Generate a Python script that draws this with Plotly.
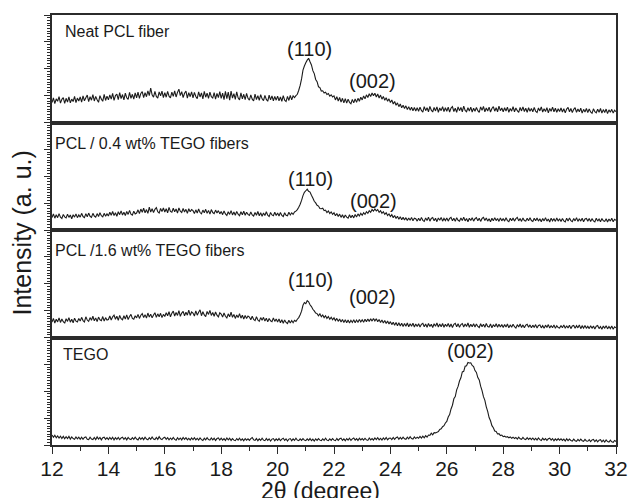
import plotly.graph_objects as go
from plotly.subplots import make_subplots

# 2-theta grid (degrees), 0.05 degree steps from 12 to 32
two_theta = [round(12 + 0.05 * i, 2) for i in range(401)]
x_ticks = [12, 14, 16, 18, 20, 22, 24, 26, 28, 30, 32]

# Diffraction intensities (a.u.), one row of 20 readings per degree
neat_pcl = [
    0.74, 0.92, 0.70, 0.88, 0.79, 0.96, 0.72, 0.86, 0.93, 0.71, 0.90, 0.76, 0.95, 0.73, 0.87, 0.78, 0.97, 0.74, 0.91, 0.80,
    0.95, 0.76, 0.99, 0.81, 0.92, 1.02, 0.78, 0.96, 0.83, 1.04, 0.80, 0.97, 0.85, 0.75, 1.00, 0.87, 0.79, 1.05, 0.82, 0.98,
    0.84, 1.03, 0.87, 1.08, 0.82, 1.00, 1.06, 0.85, 1.11, 0.89, 1.04, 0.84, 1.09, 0.92, 0.86, 1.12, 0.90, 1.05, 0.87, 1.10,
    0.92, 1.13, 0.90, 1.08, 1.15, 0.93, 1.11, 0.96, 1.18, 1.00, 1.28, 1.03, 0.94, 1.16, 0.97, 0.91, 1.14, 0.99, 1.17, 0.93,
    1.11, 0.94, 1.16, 0.98, 0.92, 1.13, 0.97, 1.18, 0.95, 1.12, 1.24, 1.00, 1.15, 0.93, 1.09, 1.17, 0.91, 1.11, 0.96, 1.14,
    0.92, 1.12, 0.97, 0.89, 1.14, 0.95, 1.10, 0.88, 1.16, 0.94, 1.09, 0.90, 1.13, 0.96, 0.91, 1.11, 0.87, 1.08, 0.93, 1.15,
    0.90, 1.09, 0.85, 1.16, 0.89, 1.13, 0.83, 1.17, 0.91, 1.07, 0.86, 1.14, 0.92, 0.84, 1.10, 0.88, 1.05, 0.85, 1.08, 0.90,
    0.83, 1.03, 0.87, 0.80, 1.06, 0.85, 1.00, 0.82, 1.04, 0.88, 0.81, 1.01, 0.86, 0.79, 1.02, 0.84, 0.99, 0.81, 0.97, 0.83,
    0.98, 0.81, 0.95, 0.79, 1.00, 0.83, 0.78, 0.97, 0.82, 1.01, 0.84, 0.99, 0.93, 1.00, 1.05, 1.20, 1.38, 1.62, 1.95, 2.10,
    2.22, 2.32, 2.39, 2.26, 2.14, 1.93, 1.82, 1.60, 1.52, 1.33, 1.30, 1.17, 1.18, 1.10, 1.13, 1.04, 1.08, 0.98, 1.03, 0.95,
    0.99, 0.84, 0.96, 0.80, 0.93, 0.76, 0.90, 0.73, 0.89, 0.72, 0.87, 0.75, 0.70, 0.86, 0.73, 0.88, 0.75, 0.90, 0.79, 0.94,
    0.84, 0.99, 0.88, 1.03, 0.93, 1.07, 0.97, 1.10, 1.00, 1.09, 0.95, 1.06, 0.91, 1.02, 0.87, 0.97, 0.83, 0.92, 0.79, 0.88,
    0.74, 0.84, 0.69, 0.78, 0.64, 0.73, 0.59, 0.69, 0.55, 0.64, 0.52, 0.62, 0.48, 0.59, 0.46, 0.57, 0.44, 0.56, 0.43, 0.55,
    0.42, 0.57, 0.45, 0.39, 0.59, 0.44, 0.55, 0.40, 0.60, 0.46, 0.39, 0.56, 0.43, 0.58, 0.38, 0.54, 0.44, 0.59, 0.41, 0.55,
    0.42, 0.57, 0.39, 0.54, 0.59, 0.41, 0.53, 0.38, 0.58, 0.44, 0.56, 0.40, 0.61, 0.45, 0.40, 0.55, 0.43, 0.57, 0.39, 0.53,
    0.42, 0.56, 0.44, 0.38, 0.58, 0.45, 0.60, 0.40, 0.54, 0.43, 0.57, 0.39, 0.52, 0.59, 0.42, 0.55, 0.40, 0.61, 0.44, 0.54,
    0.40, 0.55, 0.43, 0.57, 0.38, 0.52, 0.42, 0.59, 0.40, 0.54, 0.44, 0.38, 0.56, 0.43, 0.58, 0.41, 0.53, 0.38, 0.55, 0.42,
    0.52, 0.40, 0.56, 0.42, 0.37, 0.54, 0.43, 0.58, 0.39, 0.51, 0.41, 0.55, 0.36, 0.52, 0.42, 0.57, 0.40, 0.53, 0.38, 0.51,
    0.41, 0.54, 0.39, 0.51, 0.36, 0.50, 0.56, 0.40, 0.52, 0.37, 0.49, 0.55, 0.38, 0.50, 0.40, 0.53, 0.35, 0.49, 0.39, 0.52,
    0.37, 0.50, 0.39, 0.34, 0.51, 0.40, 0.36, 0.49, 0.38, 0.52, 0.35, 0.48, 0.37, 0.50, 0.33, 0.47, 0.38, 0.49, 0.35, 0.46,
    0.40,
]

pcl_tego_04 = [
    0.46, 0.60, 0.44, 0.57, 0.46, 0.61, 0.48, 0.43, 0.58, 0.49, 0.45, 0.59, 0.47, 0.56, 0.42, 0.57, 0.48, 0.60, 0.46, 0.56,
    0.48, 0.62, 0.50, 0.46, 0.61, 0.49, 0.63, 0.51, 0.47, 0.62, 0.52, 0.48, 0.61, 0.50, 0.64, 0.53, 0.49, 0.62, 0.51, 0.60,
    0.52, 0.66, 0.55, 0.69, 0.54, 0.64, 0.51, 0.68, 0.57, 0.71, 0.56, 0.66, 0.54, 0.69, 0.58, 0.73, 0.59, 0.55, 0.70, 0.60,
    0.63, 0.75, 0.61, 0.78, 0.66, 0.81, 0.64, 0.76, 0.62, 0.85, 0.67, 0.79, 0.65, 0.77, 0.83, 0.68, 0.63, 0.80, 0.69, 0.82,
    0.67, 0.79, 0.64, 0.84, 0.69, 0.66, 0.81, 0.68, 0.78, 0.63, 0.82, 0.70, 0.65, 0.80, 0.67, 0.77, 0.62, 0.79, 0.68, 0.76,
    0.72, 0.61, 0.75, 0.63, 0.78, 0.65, 0.60, 0.74, 0.64, 0.77, 0.62, 0.73, 0.59, 0.76, 0.65, 0.61, 0.74, 0.63, 0.72, 0.60,
    0.69, 0.57, 0.71, 0.60, 0.54, 0.68, 0.58, 0.72, 0.56, 0.67, 0.55, 0.69, 0.59, 0.53, 0.68, 0.57, 0.70, 0.55, 0.66, 0.58,
    0.54, 0.67, 0.56, 0.52, 0.65, 0.55, 0.69, 0.53, 0.64, 0.51, 0.63, 0.54, 0.68, 0.55, 0.50, 0.65, 0.56, 0.53, 0.66, 0.54,
    0.63, 0.52, 0.65, 0.54, 0.50, 0.64, 0.55, 0.53, 0.66, 0.56, 0.64, 0.58, 0.67, 0.70, 0.76, 0.85, 0.96, 1.10, 1.28, 1.40,
    1.46, 1.52, 1.44, 1.41, 1.29, 1.19, 1.07, 1.01, 0.92, 0.89, 0.80, 0.79, 0.81, 0.72, 0.74, 0.65, 0.71, 0.61, 0.67, 0.58,
    0.64, 0.53, 0.61, 0.50, 0.59, 0.47, 0.57, 0.45, 0.56, 0.48, 0.44, 0.57, 0.46, 0.55, 0.45, 0.58, 0.48, 0.60, 0.52, 0.62,
    0.55, 0.64, 0.58, 0.68, 0.62, 0.72, 0.66, 0.76, 0.70, 0.78, 0.71, 0.76, 0.66, 0.72, 0.62, 0.68, 0.58, 0.64, 0.54, 0.60,
    0.50, 0.57, 0.46, 0.54, 0.43, 0.51, 0.40, 0.49, 0.38, 0.47, 0.37, 0.46, 0.35, 0.45, 0.36, 0.47, 0.34, 0.44, 0.42, 0.33,
    0.44, 0.34, 0.47, 0.36, 0.32, 0.45, 0.35, 0.48, 0.33, 0.43, 0.46, 0.34, 0.44, 0.31, 0.45, 0.36, 0.47, 0.33, 0.43, 0.35,
    0.45, 0.33, 0.43, 0.47, 0.34, 0.44, 0.32, 0.46, 0.36, 0.33, 0.45, 0.35, 0.48, 0.34, 0.43, 0.31, 0.44, 0.35, 0.46, 0.33,
    0.42, 0.46, 0.34, 0.44, 0.32, 0.43, 0.47, 0.35, 0.45, 0.33, 0.42, 0.31, 0.44, 0.34, 0.46, 0.35, 0.43, 0.32, 0.45, 0.34,
    0.43, 0.33, 0.46, 0.35, 0.31, 0.44, 0.34, 0.45, 0.33, 0.42, 0.47, 0.34, 0.43, 0.32, 0.45, 0.35, 0.33, 0.44, 0.34, 0.46,
    0.35, 0.32, 0.44, 0.34, 0.45, 0.33, 0.42, 0.31, 0.43, 0.34, 0.46, 0.33, 0.41, 0.30, 0.44, 0.34, 0.42, 0.32, 0.45, 0.33,
    0.42, 0.32, 0.43, 0.34, 0.30, 0.44, 0.33, 0.45, 0.35, 0.31, 0.43, 0.34, 0.46, 0.32, 0.42, 0.33, 0.44, 0.31, 0.41, 0.43,
    0.33, 0.43, 0.32, 0.42, 0.34, 0.30, 0.44, 0.33, 0.41, 0.31, 0.43, 0.34, 0.32, 0.42, 0.30, 0.41, 0.33, 0.44, 0.31, 0.40,
    0.36,
]

pcl_tego_16 = [
    0.57, 0.71, 0.54, 0.68, 0.58, 0.73, 0.56, 0.69, 0.59, 0.53, 0.70, 0.60, 0.74, 0.57, 0.68, 0.55, 0.72, 0.61, 0.58, 0.71,
    0.61, 0.75, 0.63, 0.58, 0.77, 0.65, 0.60, 0.74, 0.64, 0.79, 0.62, 0.73, 0.59, 0.76, 0.66, 0.63, 0.78, 0.61, 0.74, 0.65,
    0.67, 0.80, 0.65, 0.77, 0.83, 0.68, 0.79, 0.64, 0.82, 0.70, 0.66, 0.81, 0.69, 0.84, 0.67, 0.78, 0.86, 0.71, 0.68, 0.81,
    0.73, 0.86, 0.71, 0.83, 0.89, 0.74, 0.85, 0.72, 0.91, 0.76, 0.87, 0.73, 0.84, 0.92, 0.75, 0.88, 0.77, 0.90, 0.74, 0.86,
    0.78, 0.92, 0.81, 0.96, 0.77, 0.90, 0.98, 0.80, 0.93, 0.82, 1.00, 0.79, 0.91, 0.97, 0.81, 0.94, 0.83, 1.02, 0.82, 0.95,
    0.91, 0.80, 0.99, 0.83, 0.94, 1.03, 0.81, 0.96, 0.84, 0.78, 0.97, 0.86, 1.01, 0.82, 0.93, 0.79, 0.95, 0.83, 0.77, 0.92,
    0.87, 0.76, 0.91, 0.79, 0.73, 0.88, 0.77, 0.94, 0.75, 0.86, 0.71, 0.84, 0.74, 0.89, 0.72, 0.83, 0.69, 0.82, 0.71, 0.80,
    0.76, 0.66, 0.79, 0.67, 0.63, 0.77, 0.65, 0.60, 0.74, 0.64, 0.75, 0.61, 0.72, 0.58, 0.71, 0.62, 0.59, 0.73, 0.60, 0.69,
    0.58, 0.69, 0.55, 0.66, 0.53, 0.65, 0.56, 0.52, 0.64, 0.54, 0.63, 0.55, 0.64, 0.60, 0.68, 0.74, 0.85, 0.98, 1.20, 1.30,
    1.26, 1.37, 1.33, 1.22, 1.15, 1.05, 0.99, 0.91, 0.89, 0.81, 0.88, 0.77, 0.84, 0.74, 0.81, 0.71, 0.78, 0.68, 0.75, 0.66,
    0.73, 0.63, 0.71, 0.60, 0.69, 0.58, 0.67, 0.56, 0.66, 0.55, 0.65, 0.54, 0.64, 0.56, 0.66, 0.55, 0.65, 0.57, 0.67, 0.58,
    0.66, 0.57, 0.68, 0.59, 0.69, 0.60, 0.70, 0.61, 0.71, 0.62, 0.70, 0.59, 0.67, 0.56, 0.65, 0.54, 0.63, 0.52, 0.61, 0.50,
    0.59, 0.48, 0.57, 0.46, 0.56, 0.44, 0.55, 0.43, 0.53, 0.41, 0.52, 0.42, 0.54, 0.40, 0.51, 0.42, 0.53, 0.39, 0.50, 0.41,
    0.51, 0.39, 0.49, 0.53, 0.40, 0.50, 0.38, 0.52, 0.41, 0.49, 0.37, 0.51, 0.42, 0.54, 0.39, 0.50, 0.40, 0.52, 0.38, 0.49,
    0.41, 0.52, 0.39, 0.50, 0.37, 0.49, 0.53, 0.40, 0.51, 0.38, 0.48, 0.52, 0.39, 0.50, 0.41, 0.54, 0.38, 0.49, 0.40, 0.51,
    0.39, 0.50, 0.41, 0.37, 0.51, 0.40, 0.49, 0.38, 0.52, 0.41, 0.39, 0.50, 0.36, 0.48, 0.40, 0.51, 0.38, 0.49, 0.39, 0.48,
    0.37, 0.48, 0.39, 0.50, 0.36, 0.47, 0.38, 0.49, 0.40, 0.35, 0.48, 0.39, 0.50, 0.37, 0.47, 0.36, 0.46, 0.49, 0.38, 0.47,
    0.36, 0.46, 0.37, 0.48, 0.35, 0.45, 0.47, 0.36, 0.44, 0.34, 0.46, 0.37, 0.48, 0.35, 0.45, 0.36, 0.47, 0.34, 0.44, 0.37,
    0.35, 0.45, 0.36, 0.47, 0.34, 0.44, 0.35, 0.46, 0.33, 0.43, 0.45, 0.34, 0.44, 0.36, 0.47, 0.33, 0.43, 0.35, 0.45, 0.34,
    0.42, 0.33, 0.44, 0.34, 0.43, 0.32, 0.42, 0.45, 0.33, 0.41, 0.31, 0.43, 0.34, 0.44, 0.32, 0.41, 0.33, 0.43, 0.31, 0.40,
    0.36,
]

tego = [
    0.37, 0.29, 0.36, 0.27, 0.34, 0.26, 0.33, 0.24, 0.32, 0.23, 0.31, 0.24, 0.32, 0.22, 0.30, 0.24, 0.21, 0.30, 0.23, 0.29,
    0.21, 0.29, 0.21, 0.28, 0.30, 0.21, 0.20, 0.29, 0.22, 0.20, 0.28, 0.20, 0.30, 0.22, 0.28, 0.19, 0.27, 0.29, 0.21, 0.27,
    0.20, 0.28, 0.21, 0.29, 0.19, 0.27, 0.21, 0.28, 0.20, 0.26, 0.29, 0.21, 0.27, 0.19, 0.28, 0.22, 0.20, 0.27, 0.21, 0.29,
    0.22, 0.19, 0.28, 0.21, 0.27, 0.20, 0.29, 0.22, 0.19, 0.27, 0.21, 0.30, 0.22, 0.20, 0.28, 0.21, 0.31, 0.23, 0.20, 0.26,
    0.29, 0.21, 0.27, 0.19, 0.26, 0.20, 0.28, 0.21, 0.18, 0.27, 0.20, 0.26, 0.19, 0.28, 0.21, 0.27, 0.19, 0.25, 0.18, 0.26,
    0.20, 0.27, 0.19, 0.25, 0.18, 0.26, 0.20, 0.17, 0.25, 0.19, 0.27, 0.20, 0.18, 0.26, 0.19, 0.25, 0.17, 0.24, 0.26, 0.18,
    0.25, 0.18, 0.24, 0.17, 0.26, 0.19, 0.25, 0.17, 0.24, 0.18, 0.16, 0.24, 0.18, 0.25, 0.17, 0.23, 0.16, 0.24, 0.18, 0.23,
    0.17, 0.24, 0.28, 0.19, 0.17, 0.24, 0.16, 0.23, 0.17, 0.25, 0.18, 0.16, 0.24, 0.17, 0.23, 0.15, 0.22, 0.24, 0.16, 0.23,
    0.17, 0.24, 0.16, 0.22, 0.25, 0.17, 0.23, 0.15, 0.22, 0.24, 0.16, 0.23, 0.17, 0.25, 0.18, 0.16, 0.23, 0.17, 0.24, 0.18,
    0.16, 0.23, 0.17, 0.24, 0.16, 0.22, 0.15, 0.23, 0.17, 0.24, 0.18, 0.16, 0.23, 0.17, 0.25, 0.18, 0.16, 0.23, 0.17, 0.24,
    0.18, 0.16, 0.24, 0.17, 0.23, 0.25, 0.17, 0.23, 0.16, 0.24, 0.18, 0.25, 0.17, 0.23, 0.26, 0.18, 0.24, 0.17, 0.25, 0.19,
    0.24, 0.18, 0.25, 0.19, 0.17, 0.26, 0.19, 0.24, 0.18, 0.26, 0.20, 0.27, 0.19, 0.25, 0.18, 0.26, 0.20, 0.28, 0.19, 0.25,
    0.26, 0.20, 0.28, 0.21, 0.27, 0.30, 0.21, 0.28, 0.22, 0.29, 0.23, 0.21, 0.29, 0.23, 0.31, 0.24, 0.22, 0.30, 0.24, 0.29,
    0.25, 0.32, 0.26, 0.33, 0.27, 0.35, 0.29, 0.37, 0.36, 0.44, 0.38, 0.46, 0.45, 0.47, 0.50, 0.58, 0.60, 0.68, 0.72, 0.82,
    0.88, 1.04, 1.13, 1.34, 1.48, 1.72, 1.80, 2.05, 2.18, 2.38, 2.50, 2.72, 2.74, 2.93, 2.95, 3.07, 3.05, 3.06, 2.96, 2.92,
    2.77, 2.70, 2.51, 2.42, 2.19, 2.02, 1.80, 1.66, 1.42, 1.25, 1.02, 0.90, 0.72, 0.64, 0.52, 0.50, 0.41, 0.42, 0.35, 0.37,
    0.31, 0.33, 0.29, 0.31, 0.27, 0.30, 0.25, 0.29, 0.24, 0.28, 0.22, 0.29, 0.23, 0.21, 0.28, 0.22, 0.20, 0.27, 0.21, 0.26,
    0.20, 0.26, 0.19, 0.25, 0.18, 0.26, 0.20, 0.17, 0.25, 0.19, 0.24, 0.17, 0.23, 0.25, 0.18, 0.24, 0.16, 0.23, 0.17, 0.24,
    0.18, 0.23, 0.17, 0.22, 0.15, 0.23, 0.16, 0.22, 0.17, 0.15, 0.22, 0.16, 0.14, 0.21, 0.15, 0.22, 0.16, 0.14, 0.21, 0.15,
    0.14, 0.20, 0.13, 0.19, 0.21, 0.13, 0.19, 0.12, 0.18, 0.20, 0.12, 0.18, 0.11, 0.19, 0.13, 0.11, 0.18, 0.12, 0.10, 0.17,
    0.13,
]

series = [neat_pcl, pcl_tego_04, pcl_tego_16, tego]
for ys in series:
    if len(ys) != len(two_theta):
        raise ValueError(f"series length {len(ys)} != {len(two_theta)}")

sample_names = ["Neat PCL fiber", "PCL / 0.4 wt% TEGO fibers",
                "PCL /1.6 wt% TEGO fibers", "TEGO"]
# horizontal / vertical placement of each sample name inside its panel (domain units)
name_x = [0.019, 0.002, 0.002, 0.016]
name_y = [0.85, 0.808, 0.81, 0.84]

# Reflection labels: (panel row, 2-theta position, label, height in panel units)
reflections = [
    (1, 21.13, "(110)", 2.75),
    (1, 23.36, "(002)", 1.53),
    (2, 21.15, "(110)", 1.90),
    (2, 23.40, "(002)", 1.08),
    (3, 21.15, "(110)", 2.13),
    (3, 23.36, "(002)", 1.52),
    (4, 26.83, "(002)", 3.49),
]

FONT = "Arial, Liberation Sans, sans-serif"
INK = "#1a1a1a"
LINE = "#2b2b2b"

fig = make_subplots(rows=4, cols=1, shared_xaxes=True, vertical_spacing=0)

for row, ys in enumerate(series, start=1):
    fig.add_trace(
        go.Scatter(x=two_theta, y=ys, mode="lines",
                   line=dict(color="#1c1c1c", width=1.1, simplify=False),
                   showlegend=False, hoverinfo="skip"),
        row=row, col=1,
    )

for row in range(1, 5):
    bottom = row == 4
    fig.update_xaxes(
        range=[12, 32], showline=True, mirror=True, linecolor=LINE, linewidth=1.6,
        showgrid=False, zeroline=False,
        tickmode="array", tickvals=x_ticks, ticktext=[str(v) for v in x_ticks],
        ticks="outside" if bottom else "", ticklen=7, tickwidth=1.2, tickcolor=LINE,
        showticklabels=bottom,
        tickfont=dict(family=FONT, size=21, color=INK),
        minor=dict(dtick=1, tick0=12, ticklen=4, ticks="outside" if bottom else "",
                   tickcolor=LINE, tickwidth=1.2),
        row=row, col=1,
    )
    fig.update_yaxes(
        range=[0, 4], showline=True, mirror=True, linecolor=LINE, linewidth=1.6,
        showgrid=False, zeroline=False, showticklabels=False,
        tick0=0, dtick=1, ticks="outside", ticklen=6, tickwidth=1.2, tickcolor=LINE,
        minor=dict(dtick=0.1, tick0=0, ticklen=3, ticks="outside",
                   tickcolor=LINE, tickwidth=1),
        row=row, col=1,
    )

annotations = []
for row, name in enumerate(sample_names, start=1):
    suffix = "" if row == 1 else str(row)
    annotations.append(dict(
        text=name, xref=f"x{suffix} domain", yref=f"y{suffix} domain",
        x=name_x[row - 1], y=name_y[row - 1],
        xanchor="left", yanchor="middle", showarrow=False,
        font=dict(family=FONT, size=16, color=INK),
    ))

for row, pos, text, height in reflections:
    suffix = "" if row == 1 else str(row)
    annotations.append(dict(
        text=text, xref=f"x{suffix}", yref=f"y{suffix}", x=pos, y=height,
        xanchor="center", yanchor="middle", showarrow=False,
        font=dict(family=FONT, size=20, color=INK),
    ))

annotations.append(dict(
    text="Intensity (a. u.)", xref="paper", yref="paper",
    x=-0.0523, y=0.493, xanchor="center", yanchor="middle",
    textangle=-90, showarrow=False,
    font=dict(family=FONT, size=25, color=INK),
))
annotations.append(dict(
    text="2θ (degree)", xref="paper", yref="paper",
    x=0.4756, y=-0.108, xanchor="center", yanchor="middle",
    showarrow=False,
    font=dict(family=FONT, size=23, color=INK),
))

fig.update_layout(
    width=640, height=498,
    margin=dict(l=52, r=14, t=15, b=53),
    paper_bgcolor="white", plot_bgcolor="white",
    annotations=annotations,
)
fig.update_xaxes(ticklabelstandoff=-3, row=4, col=1)

fig.write_html("out.html")
